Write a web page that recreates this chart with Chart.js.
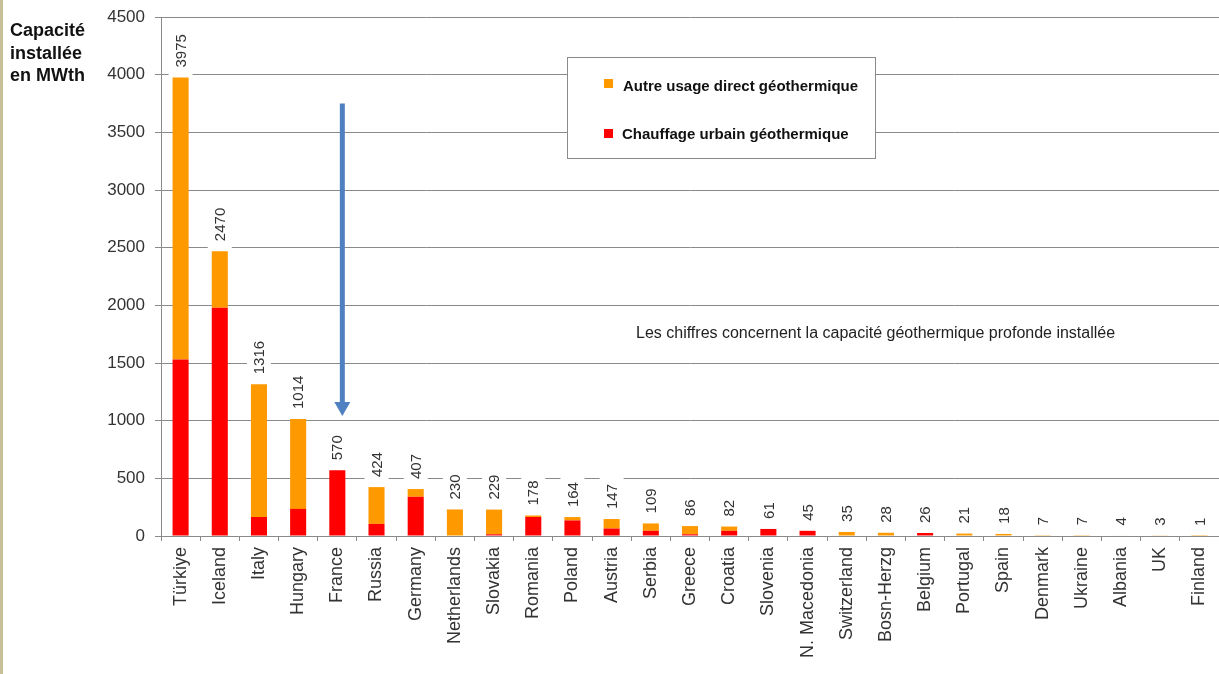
<!DOCTYPE html>
<html>
<head>
<meta charset="utf-8">
<script src="https://cdn.jsdelivr.net/npm/chart.js@4.4.1/dist/chart.umd.min.js"></script>
<style>
  html, body { margin: 0; padding: 0; background: #fff; }
  #wrap { position: relative; width: 1219px; height: 674px; }
  #strip { position: absolute; left: 0; top: 0; width: 3px; height: 674px; background: #c9bf98; z-index: 2; }
</style>
</head>
<body>
<div id="wrap">
  <div id="strip"></div>
  <canvas id="chart" width="1219" height="674"></canvas>
</div>
<script>
const countries = ['Türkiye', 'Iceland', 'Italy', 'Hungary', 'France', 'Russia', 'Germany',
  'Netherlands', 'Slovakia', 'Romania', 'Poland', 'Austria', 'Serbia', 'Greece', 'Croatia',
  'Slovenia', 'N. Macedonia', 'Switzerland', 'Bosn-Herzg', 'Belgium', 'Portugal', 'Spain',
  'Denmark', 'Ukraine', 'Albania', 'UK', 'Finland'];
const totals = [3975, 2470, 1316, 1014, 570, 424, 407, 230, 229, 178, 164, 147, 109, 86, 82,
  61, 45, 35, 28, 26, 21, 18, 7, 7, 4, 3, 1];
const chauffageUrbain = [1530, 1980, 165, 235, 570, 105, 340, 0, 15, 165, 135, 65, 45, 15, 45,
  61, 45, 0, 0, 26, 0, 0, 0, 0, 0, 0, 0];
const autreUsage = [2445, 490, 1151, 779, 0, 319, 67, 230, 214, 13, 29, 82, 64, 71, 37,
  0, 0, 35, 28, 0, 21, 18, 7, 7, 4, 3, 1];
const yTicks = [0, 500, 1000, 1500, 2000, 2500, 3000, 3500, 4000, 4500];

const ORANGE = '#ff9900';
const RED = '#ff0000';
const FONT = '"Liberation Sans", Arial, sans-serif';

// totals written above each bar, rotated, on a white box
const totalLabels = {
  id: 'totalLabels',
  afterDatasetsDraw(chart) {
    const ctx = chart.ctx;
    const x = chart.scales.x;
    const y = chart.scales.y;
    ctx.save();
    ctx.font = '15px ' + FONT;
    totals.forEach((v, i) => {
      const px = x.getPixelForValue(i);
      const py = y.getPixelForValue(v);
      const txt = String(v);
      const w = ctx.measureText(txt).width;
      ctx.save();
      ctx.translate(px, py - 2);
      ctx.rotate(-Math.PI / 2);
      ctx.fillStyle = '#fff';
      ctx.fillRect(0, -12, w + 16, 24);
      ctx.fillStyle = '#333';
      ctx.textAlign = 'left';
      ctx.textBaseline = 'middle';
      ctx.fillText(txt, 8, 1);
      ctx.restore();
    });
    ctx.restore();
  }
};

const extras = {
  id: 'extras',
  afterDraw(chart) {
    const ctx = chart.ctx;
    const x = chart.scales.x;
    const y = chart.scales.y;
    ctx.save();

    // y title
    ctx.fillStyle = '#111';
    ctx.font = 'bold 18px ' + FONT;
    ctx.textAlign = 'left';
    ctx.textBaseline = 'alphabetic';
    ['Capacité', 'installée', 'en MWth'].forEach((t, i) => ctx.fillText(t, 10, 36 + i * 22.5));

    // legend box
    ctx.fillStyle = '#fff';
    ctx.fillRect(567.5, 57.5, 308, 101);
    ctx.strokeStyle = '#8a8a8a';
    ctx.lineWidth = 1;
    ctx.strokeRect(567.5, 57.5, 308, 101);
    ctx.font = 'bold 15px ' + FONT;
    ctx.fillStyle = ORANGE;
    ctx.fillRect(604, 79, 9, 9);
    ctx.fillStyle = RED;
    ctx.fillRect(604, 129, 9, 9);
    ctx.fillStyle = '#111';
    ctx.fillText(chart.data.datasets[1].label, 623, 91);
    ctx.fillText(chart.data.datasets[0].label, 622, 139);

    // note
    ctx.font = '16px ' + FONT;
    ctx.fillStyle = '#222';
    ctx.fillText('Les chiffres concernent la capacité géothermique profonde installée', 636, 338);

    // arrow pointing at France
    const ax = x.getPixelForValue(4) + 5;
    const top = y.getPixelForValue(3750);
    const tip = y.getPixelForValue(1040);
    ctx.strokeStyle = '#4f81c2';
    ctx.fillStyle = '#4f81c2';
    ctx.lineWidth = 5;
    ctx.beginPath();
    ctx.moveTo(ax, top);
    ctx.lineTo(ax, tip - 12);
    ctx.stroke();
    ctx.beginPath();
    ctx.moveTo(ax - 8, tip - 14);
    ctx.lineTo(ax + 8, tip - 14);
    ctx.lineTo(ax, tip);
    ctx.closePath();
    ctx.fill();

    ctx.restore();
  }
};

new Chart(document.getElementById('chart'), {
  type: 'bar',
  data: {
    labels: countries,
    datasets: [
      { label: 'Chauffage urbain géothermique', data: chauffageUrbain, backgroundColor: RED },
      { label: 'Autre usage direct géothermique', data: autreUsage, backgroundColor: ORANGE }
    ]
  },
  options: {
    responsive: false,
    animation: false,
    devicePixelRatio: 1,
    layout: { padding: { top: 17, left: 0, right: -1, bottom: 0 } },
    datasets: { bar: { categoryPercentage: 1, barPercentage: 0.41 } },
    plugins: { legend: { display: false }, tooltip: { enabled: false } },
    scales: {
      x: {
        stacked: true,
        offset: true,
        grid: { offset: true, drawOnChartArea: false, color: '#8a8a8a', tickLength: 5 },
        border: { color: '#8a8a8a' },
        ticks: { minRotation: 90, maxRotation: 90, autoSkip: false, padding: 6,
          color: '#333', font: { family: FONT, size: 18 } },
        afterFit(scale) {
          scale.height = 138;
          scale.paddingLeft = 0;
          scale.paddingRight = 0;
        }
      },
      y: {
        stacked: true,
        min: 0,
        max: 4500,
        afterBuildTicks(scale) { scale.ticks = yTicks.map(v => ({ value: v })); },
        grid: { color: '#8a8a8a', tickLength: 6 },
        border: { color: '#8a8a8a' },
        ticks: { padding: 10, color: '#333', font: { family: FONT, size: 17 },
          callback: v => String(v) },
        afterFit(scale) {
          scale.width = 161;
          scale.paddingTop = 0;
          scale.paddingBottom = 0;
        }
      }
    }
  },
  plugins: [totalLabels, extras]
});
</script>
</body>
</html>
